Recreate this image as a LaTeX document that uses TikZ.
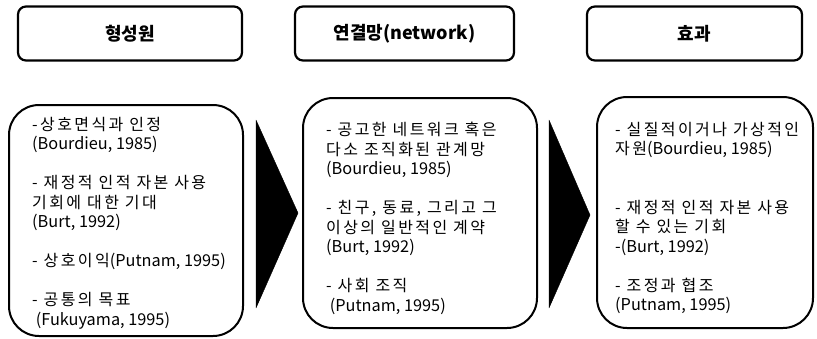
\documentclass[tikz,border=0pt]{standalone}
\usepackage{fontspec}
\setmainfont{Noto Sans CJK KR}
\newfontfamily\krspaced[LetterSpace=15]{Noto Sans CJK KR}
\newfontfamily\latplain{Noto Sans CJK KR}
\newcommand\lt[1]{{\latplain\fontsize{16.3}{19.5}\selectfont #1}}
\begin{document}
\begin{tikzpicture}[x=1pt,y=1pt,
  titlebox/.style={draw=black, line width=2.2pt, rounded corners=8pt, minimum width=224pt, minimum height=54pt, font=\fontsize{18}{22}\selectfont\bfseries},
  bigbox/.style={draw=black, line width=2pt, rounded corners=30pt},
  body/.style={anchor=north west, align=left, inner sep=0pt, font=\fontsize{16}{19.5}\krspaced},
  chev/.style={fill=black, draw=black, line join=round}]
\useasboundingbox (0,0) rectangle (817,-338);
% title boxes
\node[titlebox] (t1) at (130,-33.5) {형성원};
\node[titlebox, minimum width=219pt] (t2) at (404.5,-33.5) {연결망(network)};
\node[titlebox, minimum width=215pt] (t3) at (694.5,-33.5) {효과};
% big boxes
\node[bigbox, minimum width=234pt, minimum height=231pt] (b1) at (126,-220.5) {};
\node[bigbox, minimum width=234pt, minimum height=230pt] (b2) at (420,-213) {};
\node[bigbox, minimum width=216pt, minimum height=231pt] (b3) at (705,-212.5) {};
% chevrons
\path (256,-120) coordinate (a1t) (298,-213) coordinate (a1p) (256,-308) coordinate (a1b);
\fill[chev] (a1t) -- (a1p) -- (a1b) -- cycle;
\path (549,-120) coordinate (a2t) (590,-215) coordinate (a2p) (549,-308) coordinate (a2b);
\fill[chev] (a2t) -- (a2p) -- (a2b) -- cycle;
% texts
\node[body] (x1) at (32,-117) {-상호면식과 인정\\\lt{(Bourdieu, 1985)}\\[19.5pt]- 재정적 인적 자본 사용\\기회에 대한 기대\\\lt{(Burt, 1992)}\\[19.5pt]- 상호이익\lt{(Putnam, 1995)}\\[19.5pt]- 공통의 목표\\\lt{\ (Fukuyama, 1995)}};
\node[body] (x2) at (326,-122) {- 공고한 네트워크 혹은\\다소 조직화된 관계망\\\lt{(Bourdieu, 1985)}\\[19.5pt]- 친구, 동료, 그리고 그\\이상의 일반적인 계약\\\lt{(Burt, 1992)}\\[19.5pt]- 사회 조직\\\lt{\ (Putnam, 1995)}};
\node[body] (x3) at (615,-122) {- 실질적이거나 가상적인\\자원\lt{(Bourdieu, 1985)}\\[39pt]- 재정적 인적 자본 사용\\할 수 있는 기회\\\lt{-(Burt, 1992)}\\[19.5pt]- 조정과 협조\\\lt{(Putnam, 1995)}};
\end{tikzpicture}
\end{document}
